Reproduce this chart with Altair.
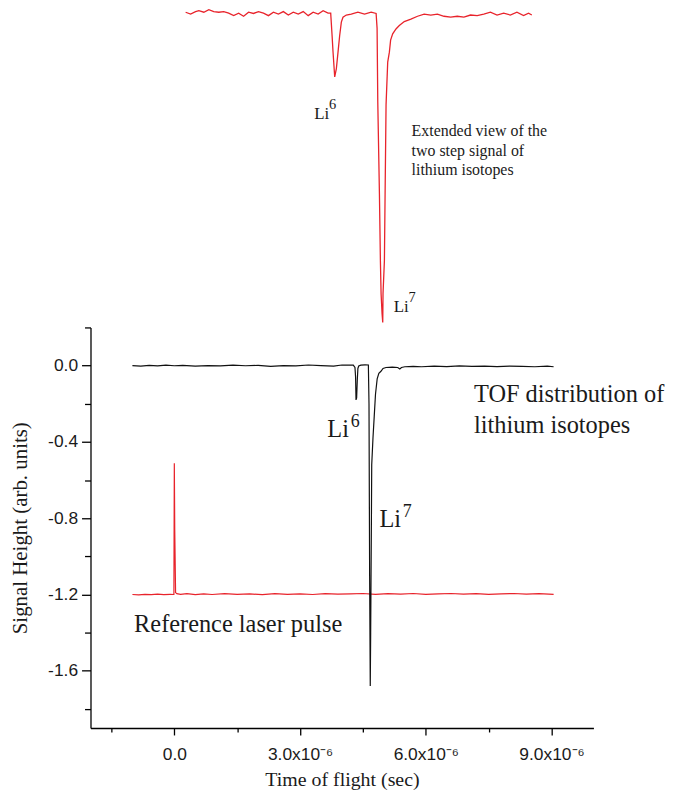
import altair as alt
import pandas as pd
import numpy as np

# ---- main TOF trace (time in microseconds, signal in arb. units)
tof_t = [-1.00,-0.80,-0.60,-0.40,-0.20,0.00,0.20,0.50,0.80,1.10,1.40,1.70,2.00,2.30,2.60,2.90,3.20,3.50,3.80,4.00,
         4.15,4.27,4.31,4.325,4.335,4.35,4.365,4.38,4.40,4.45,4.55,4.63,4.645,4.66,4.675,4.685,4.70,4.71,4.74,4.77,
         4.80,4.84,4.88,4.93,4.98,5.05,5.20,5.33,5.38,5.42,5.50,5.70,5.90,6.20,6.50,6.80,7.10,7.40,7.70,8.00,
         8.30,8.60,8.90,9.05]
tof_s = [0.000,-0.003,0.001,-0.002,0.002,-0.001,0.001,-0.003,0.000,-0.002,0.002,-0.001,0.001,-0.004,0.000,-0.002,0.003,0.000,-0.003,0.003,
         0.002,0.002,-0.010,-0.060,-0.180,-0.170,-0.080,-0.015,-0.002,0.002,0.004,0.003,-0.200,-1.100,-1.680,-1.400,-0.900,-0.520,-0.380,-0.265,
         -0.150,-0.070,-0.040,-0.030,-0.015,-0.010,-0.008,-0.010,-0.018,-0.010,-0.006,-0.004,-0.006,-0.003,-0.005,-0.002,-0.004,-0.003,-0.005,-0.003,
         -0.004,-0.006,-0.003,-0.006]

# ---- reference laser pulse trace
ref_t = [-1.00,-0.85,-0.70,-0.55,-0.40,-0.25,-0.10,-0.01,0.00,0.01,0.03,0.06,0.15,0.30,0.50,0.70,0.90,1.20,1.50,1.80,
         2.10,2.40,2.70,3.00,3.30,3.60,3.90,4.20,4.50,4.80,5.10,5.40,5.70,6.00,6.30,6.60,6.90,7.20,7.50,7.80,
         8.10,8.40,8.70,9.05]
ref_s = [-1.200,-1.202,-1.199,-1.201,-1.198,-1.201,-1.199,-1.200,-0.512,-0.860,-1.190,-1.196,-1.199,-1.196,-1.201,-1.197,-1.200,-1.196,-1.199,-1.197,
         -1.201,-1.196,-1.199,-1.197,-1.200,-1.196,-1.198,-1.197,-1.195,-1.199,-1.196,-1.198,-1.195,-1.199,-1.197,-1.195,-1.198,-1.196,-1.199,-1.197,
         -1.195,-1.198,-1.196,-1.199]

# ---- extended (inset) view of the two-step signal
ins_t = [3.260,3.296,3.332,3.356,3.392,3.428,3.464,3.500,3.536,3.572,3.608,3.644,3.680,3.716,3.752,3.788,3.824,3.860,3.896,3.932,
         3.968,4.004,4.040,4.076,4.112,4.148,4.184,4.220,4.256,4.292,4.311,4.321,4.328,4.340,4.352,4.364,4.376,4.388,4.400,4.424,
         4.460,4.508,4.556,4.604,4.640,4.647,4.652,4.664,4.671,4.676,4.683,4.688,4.690,4.700,4.705,4.712,4.724,4.736,4.745,4.760,
         4.784,4.808,4.844,4.892,4.940,4.988,5.036,5.084,5.132,5.180,5.228,5.276,5.324,5.372,5.420,5.468,5.516,5.564,5.612,5.660,
         5.708,5.744,5.768]
ins_s = [0.002,-0.004,0.004,0.007,0.002,0.010,0.004,0.002,0.004,-0.001,-0.009,-0.001,-0.011,0.002,-0.002,0.004,-0.001,-0.009,0.002,-0.004,
         0.004,-0.007,0.002,-0.004,0.004,-0.009,0.002,-0.004,0.007,-0.001,-0.001,-0.073,-0.127,-0.207,-0.180,-0.127,-0.073,-0.030,-0.014,-0.007,
         -0.004,0.002,-0.004,0.002,-0.002,-0.050,-0.287,-0.586,-0.801,-0.907,-0.971,-1.000,-0.907,-0.801,-0.586,-0.297,-0.159,-0.127,-0.088,-0.068,
         -0.052,-0.041,-0.028,-0.020,-0.011,-0.004,-0.007,-0.004,-0.011,-0.014,-0.011,-0.014,-0.007,-0.009,-0.004,0.002,-0.007,-0.001,-0.007,0.002,
         -0.009,-0.001,-0.007]

# ---- axis ticks
x_ticks_us = [-1.5, 0.0, 1.5, 3.0, 4.5, 6.0, 7.5, 9.0]
y_ticks = [-1.8, -1.6, -1.4, -1.2, -1.0, -0.8, -0.6, -0.4, -0.2, 0.0, 0.2]

# ---- annotations (main view, data coordinates: microseconds, signal)
big_text = ["TOF distribution of", "lithium isotopes", "Reference laser pulse"]
big_t = [7.15, 7.15, -0.96]
big_s = [-0.189, -0.355, -1.396]
li_main_sup = ["6", "7"]
li_main_t = [3.65, 4.894]
li_main_s = [-0.375, -0.844]

# ---- annotations (inset view coordinates)
inset_text = ["Extended view of the", "two step signal of", "lithium isotopes"]
inset_text_t = [4.897, 4.897, 4.897]
inset_text_s = [-0.397, -0.462, -0.523]
li_ins_sup = ["6", "7"]
li_ins_t = [4.191, 4.767]
li_ins_s = [-0.343, -0.967]

US = 1e-6
RED = "#e8232b"
INK = "#1a1a1a"
SERIF = "Liberation Serif"
SANS = "Liberation Sans"

tof = pd.DataFrame({"t": np.array(tof_t) * US, "s": tof_s})
ref = pd.DataFrame({"t": np.array(ref_t) * US, "s": ref_s})
ins = pd.DataFrame({"t": np.array(ins_t) * US, "s": ins_s})
big = pd.DataFrame({"t": np.array(big_t) * US, "s": big_s, "txt": big_text})
li_main = pd.DataFrame({"t": np.array(li_main_t) * US, "s": li_main_s, "sup": li_main_sup})
ins_txt = pd.DataFrame({"t": np.array(inset_text_t) * US, "s": inset_text_s, "txt": inset_text})
li_ins = pd.DataFrame({"t": np.array(li_ins_t) * US, "s": li_ins_s, "sup": li_ins_sup})

x_scale = alt.Scale(domain=[-2e-6, 10e-6], zero=False, nice=False)
y_scale = alt.Scale(domain=[-1.9, 0.2], zero=False, nice=False)

x_major = "abs(datum.value*1e6/3 - round(datum.value*1e6/3)) < 0.01"
y_major = "abs(datum.value/0.4 - round(datum.value/0.4)) < 0.01"

x_axis = alt.Axis(
    values=[v * US for v in x_ticks_us],
    labelExpr=f"abs(datum.value) < 1e-9 ? '0.0' : ({x_major} ? format(datum.value*1e6, '.1f') + 'x10\u207b\u2076' : '')",
    title="Time of flight (sec)",
    titleFont=SERIF, titleFontSize=20, titleFontWeight="normal", titleColor=INK, titlePadding=6,
    labelFont=SANS, labelFontSize=17.5, labelColor=INK, labelPadding=11,
    tickSize={"condition": {"test": x_major, "value": 7}, "value": 4},
    tickColor="black", tickWidth=1.3, domainColor="black", domainWidth=1.3,
    grid=False, labelFlush=False, labelOverlap=False,
)
y_axis = alt.Axis(
    values=y_ticks,
    labelExpr=f"{y_major} ? (datum.value < -0.01 ? '-' : '') + format(abs(datum.value), '.1f') : ''",
    title="Signal Height (arb. units)",
    titleFont=SERIF, titleFontSize=21, titleFontWeight="normal", titleColor=INK, titlePadding=17,
    labelFont=SANS, labelFontSize=17.5, labelColor=INK, labelPadding=4,
    tickSize={"condition": {"test": y_major, "value": 9}, "value": 6},
    tickColor="black", tickWidth=1.3, domainColor="black", domainWidth=1.3,
    grid=False, labelFlush=False, labelOverlap=False,
)

X = alt.X("t:Q", scale=x_scale, axis=x_axis)
Y = alt.Y("s:Q", scale=y_scale, axis=y_axis)

ref_line = alt.Chart(ref).mark_line(color=RED, strokeWidth=1.2, clip=False).encode(x=X, y=Y, order="t:Q")
tof_line = alt.Chart(tof).mark_line(color="#111111", strokeWidth=1.2, clip=False).encode(x=X, y=Y, order="t:Q")
big_layer = alt.Chart(big).mark_text(
    align="left", baseline="alphabetic", font=SERIF, fontSize=24.5, color=INK
).encode(x=X, y=Y, text="txt:N")
li_main_layer = alt.Chart(li_main).mark_text(
    align="left", baseline="alphabetic", font=SERIF, fontSize=24.5, color=INK
).encode(x=X, y=Y, text=alt.value("Li"))
li_main_sup_layer = alt.Chart(li_main).mark_text(
    align="left", baseline="alphabetic", font=SERIF, fontSize=18, color=INK, dx=23.5, dy=-10
).encode(x=X, y=Y, text="sup:N")

main = alt.layer(ref_line, tof_line, big_layer, li_main_layer, li_main_sup_layer)

# inset scales: placed above the main plot area
ix_scale = alt.Scale(domain=[3.26e-6, 5.77e-6], range=[95.7, 444.3], zero=False, nice=False)
iy_scale = alt.Scale(domain=[-1.0, 0.0], range=[-5, -316.5], zero=False, nice=False)
IX = alt.X("t:Q", scale=ix_scale, axis=None)
IY = alt.Y("s:Q", scale=iy_scale, axis=None)

ins_line = alt.Chart(ins).mark_line(color=RED, strokeWidth=1.3, clip=False).encode(x=IX, y=IY, order="t:Q")
ins_txt_layer = alt.Chart(ins_txt).mark_text(
    align="left", baseline="alphabetic", font=SERIF, fontSize=16, color=INK
).encode(x=IX, y=IY, text="txt:N")
li_ins_layer = alt.Chart(li_ins).mark_text(
    align="left", baseline="alphabetic", font=SERIF, fontSize=17, color=INK
).encode(x=IX, y=IY, text=alt.value("Li"))
li_ins_sup_layer = alt.Chart(li_ins).mark_text(
    align="left", baseline="alphabetic", font=SERIF, fontSize=14.5, color=INK, dx=15, dy=-10.5
).encode(x=IX, y=IY, text="sup:N")

inset = alt.layer(ins_line, ins_txt_layer, li_ins_layer, li_ins_sup_layer)

chart = (
    alt.layer(main, inset)
    .resolve_scale(x="independent", y="independent")
    .properties(width=506, height=403, padding={"left": 1, "top": -4, "right": 0, "bottom": -2})
    .configure_view(stroke=None)
)

chart.save("out.html", embed_options={"renderer": "svg", "actions": False})
